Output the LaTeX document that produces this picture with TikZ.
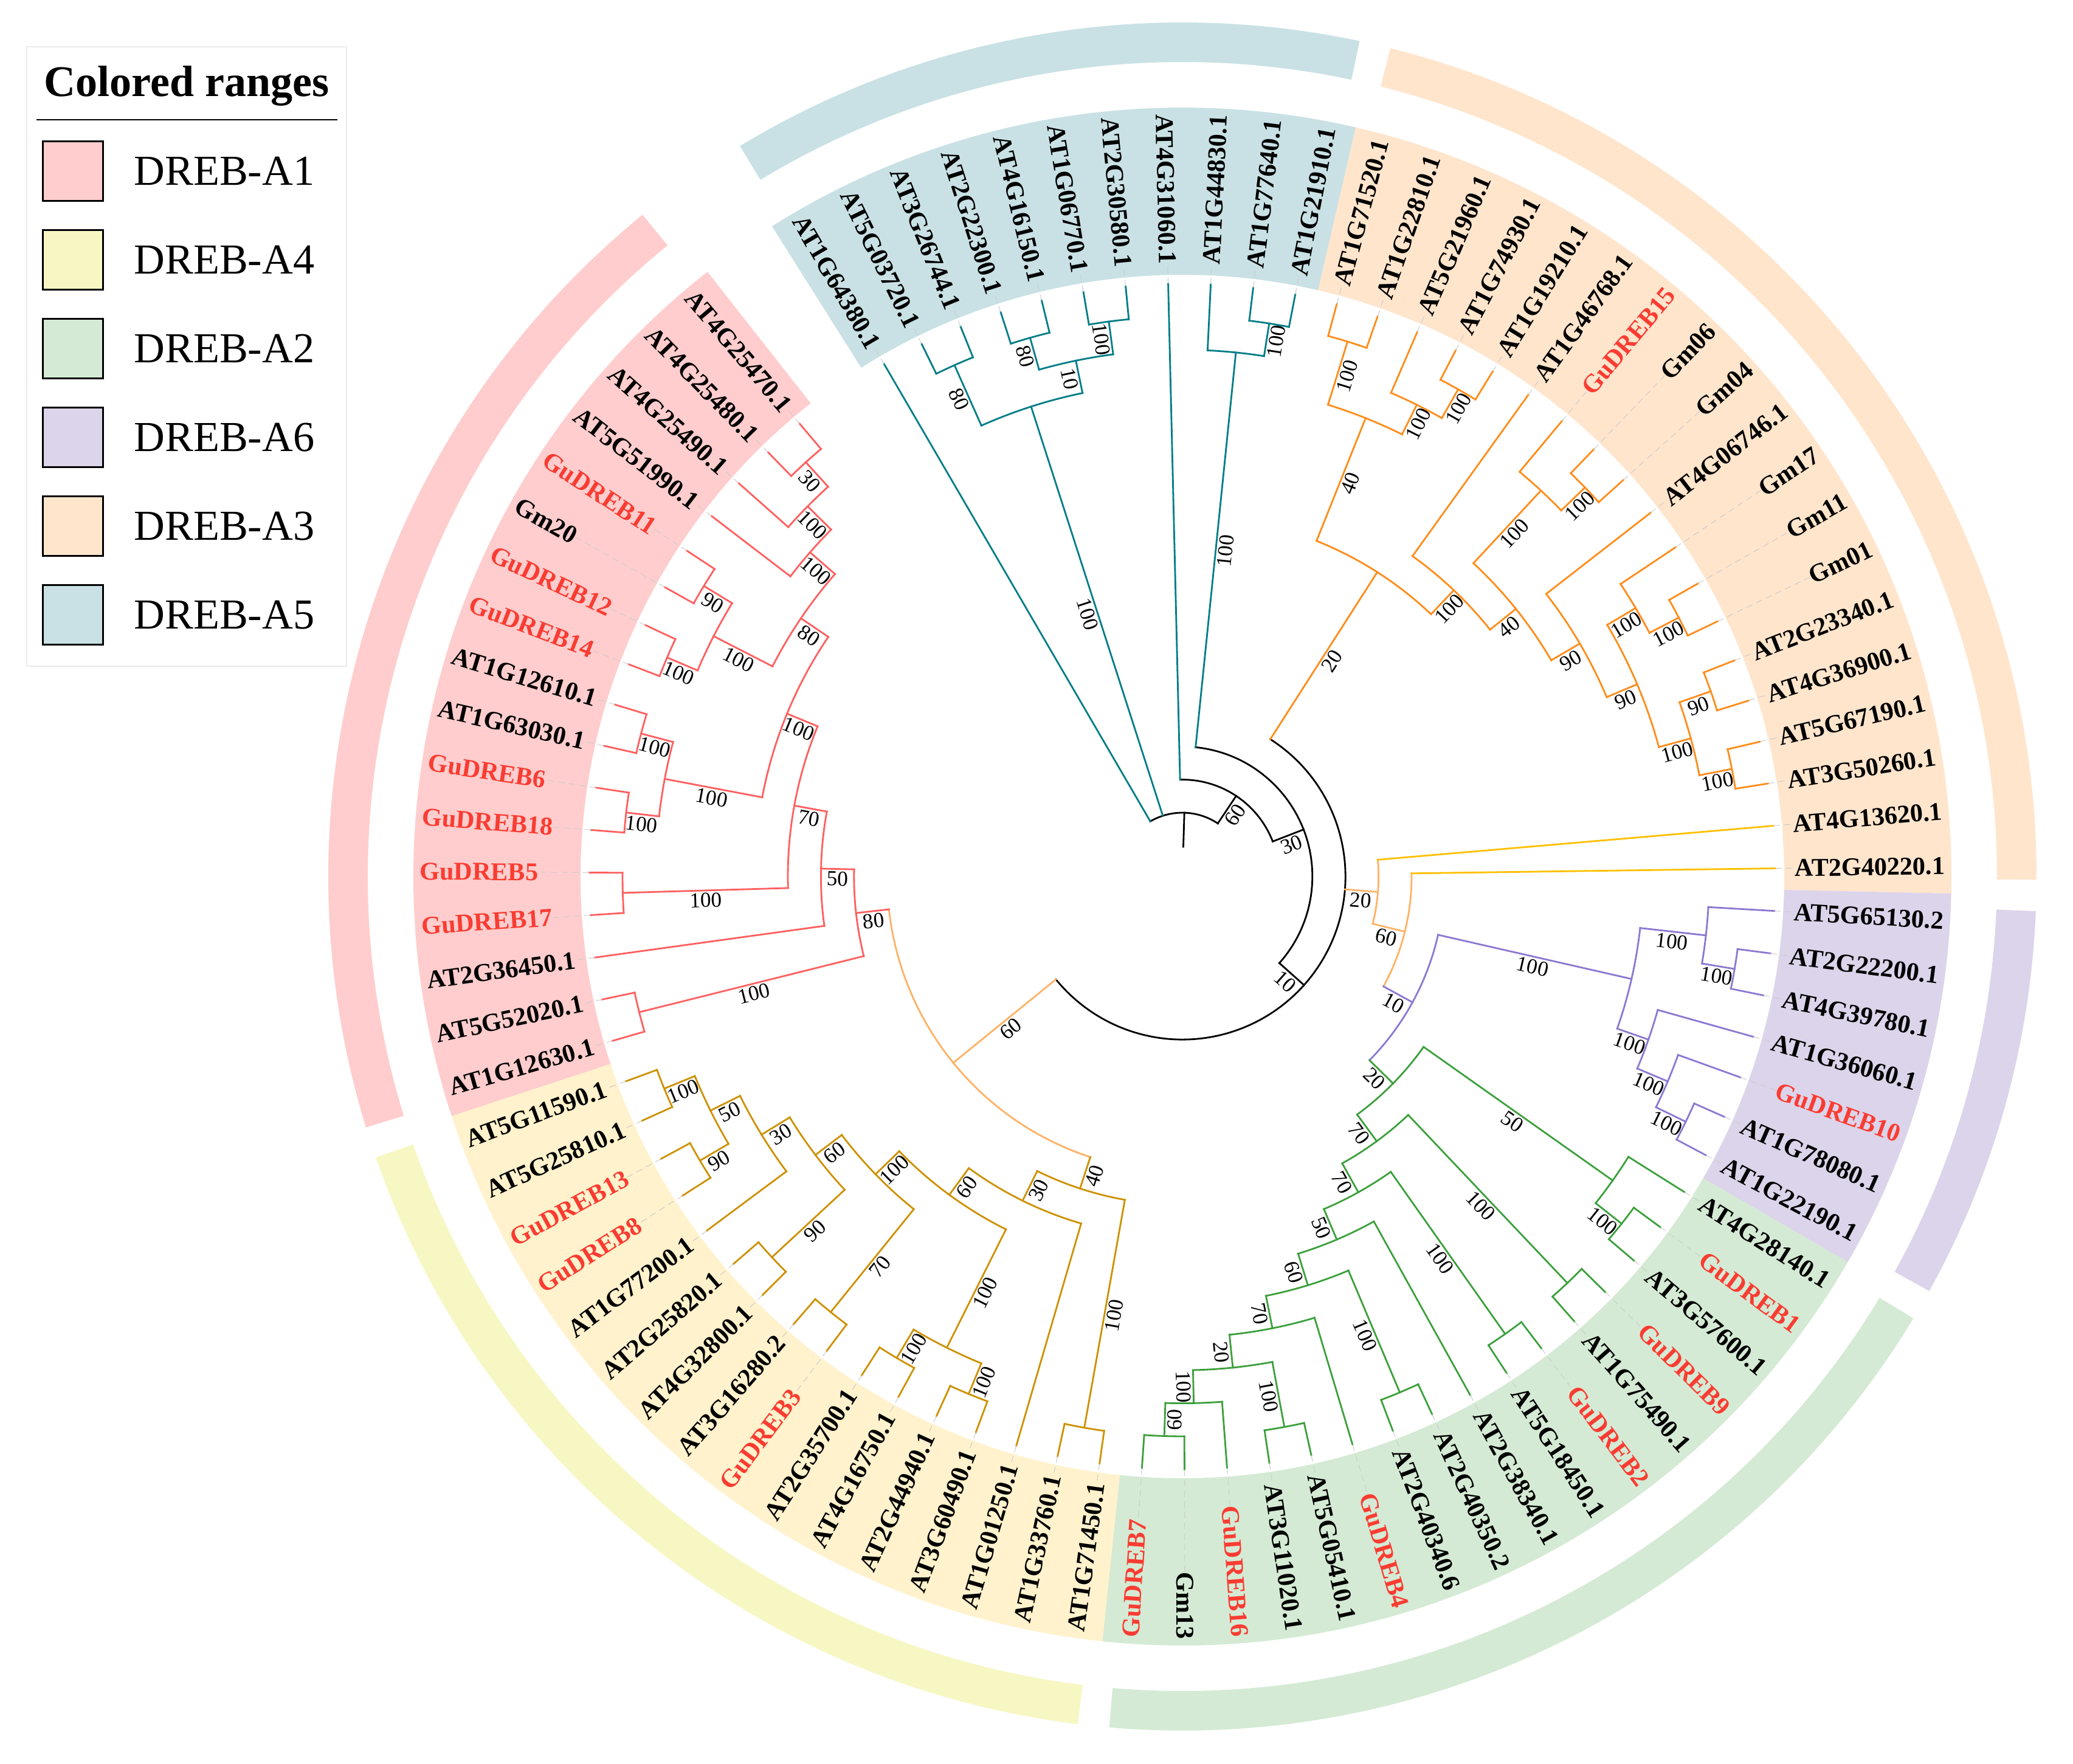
\documentclass[tikz,border=0pt]{standalone}
\usepackage{fontspec}
\setmainfont{Liberation Serif}
\usetikzlibrary{positioning}

\definecolor{a1br}{RGB}{255,95,95}
\definecolor{a2br}{RGB}{60,160,60}
\definecolor{a3br}{RGB}{255,140,26}
\definecolor{a4br}{RGB}{205,145,0}
\definecolor{a5br}{RGB}{0,125,135}
\definecolor{a6br}{RGB}{140,120,210}
\definecolor{joinbr}{RGB}{255,178,102}
\definecolor{yelbr}{RGB}{255,192,0}
\definecolor{gured}{RGB}{250,60,50}
\definecolor{a1bg}{RGB}{255,205,205}
\definecolor{a2bg}{RGB}{212,234,212}
\definecolor{a3bg}{RGB}{255,229,204}
\definecolor{a4bg}{RGB}{255,242,204}
\definecolor{a4ring}{RGB}{247,247,196}
\definecolor{a5bg}{RGB}{201,225,228}
\definecolor{a6bg}{RGB}{220,212,234}

\tikzset{
    branch/.style={line width=0.8pt, line cap=rect},
    leaflab/.style={font=\fontsize{12}{14}\selectfont\bfseries, inner sep=0pt},
    boot/.style={font=\fontsize{10}{12}\selectfont, inner sep=1pt, anchor=north},
    leader/.style={gray!40, densely dashed, line width=0.3pt},
    swatch/.style={draw=black, line width=0.8pt, inner sep=0pt, minimum width=0.99cm, minimum height=0.98cm},
    legtext/.style={font=\fontsize{20}{24}\selectfont, anchor=west, inner sep=0pt}
}

% leaf slot -> angle, node height -> radius
\newcommand{\phiof}[1]{(120.2-4.1176*(#1))}
\newcommand{\radof}[1]{(9.754-0.544*(#1))}

% name, slot, height, parent height, first child, last child, colour, support
\newcommand{\clade}[8]{%
    \coordinate (#1) at ({\phiof{#2}}:{\radof{#3}});
    \coordinate (#1-b) at ({\phiof{#2}}:{\radof{#4}});
    \draw[branch,#7] (#1-b) -- (#1);
    \draw[branch,#7] ({\phiof{#5}}:{\radof{#3}}) arc[start angle={\phiof{#5}}, end angle={\phiof{#6}}, radius={\radof{#3}}];
    \pgfmathsetmacro{\rot}{ifthenelse(cos(\phiof{#2})<0,\phiof{#2}+180,\phiof{#2})}
    \node[boot,rotate=\rot] (s-#1) at ({\phiof{#2}}:{(\radof{#3}+\radof{#4})/2}) {#8};
}

% first leaf, last leaf, colour, inner r, outer r, pad
\newcommand{\band}[6]{%
    \fill[#3] ({\phiof{#1}+#6}:#4) arc[start angle={\phiof{#1}+#6}, end angle={\phiof{#2}-#6}, radius=#4]
        -- ({\phiof{#2}-#6}:#5) arc[start angle={\phiof{#2}-#6}, end angle={\phiof{#1}+#6}, radius=#5] -- cycle;
}

\begin{document}
\begin{tikzpicture}
    \useasboundingbox (-19.45,-14.60) rectangle (14.65,14.42);
    \fill[white] (-19.45,-14.60) rectangle (14.65,14.42);

    % label backgrounds and outer ring
    \band{0}{10}{a5bg}{9.9}{12.65}{2.0588}
    \band{11}{29}{a3bg}{9.9}{12.65}{2.0588}
    \band{30}{36}{a6bg}{9.9}{12.65}{2.0588}
    \band{37}{52}{a2bg}{9.9}{12.65}{2.0588}
    \band{53}{68}{a4bg}{9.9}{12.65}{2.0588}
    \band{69}{85}{a1bg}{9.9}{12.65}{2.0588}
    \band{0}{10}{a5bg}{13.4}{14.05}{1}
    \band{11}{29}{a3bg}{13.4}{14.05}{1}
    \band{30}{36}{a6bg}{13.4}{14.05}{1}
    \band{37}{52}{a2bg}{13.4}{14.05}{1}
    \band{53}{68}{a4ring}{13.4}{14.05}{1}
    \band{69}{85}{a1bg}{13.4}{14.05}{1}

    % root
    \coordinate (root) at ({\phiof{7.7604}}:{\radof{16}});
    \coordinate (root-b) at ({\phiof{7.7604}}:0.49);
    \draw[branch] (root-b) -- (root);
    \draw[branch] ({\phiof{0}}:{\radof{16}}) arc[start angle={\phiof{0}}, end angle={\phiof{15.5208}}, radius={\radof{16}}];
    \clade{X}{15.5208}{15}{16}{7}{24.0415}{black}{60}
    \clade{Y}{24.0415}{14}{15}{8.75}{39.333}{black}{30}
    \clade{Z}{39.333}{13}{14}{15.2578}{63.4082}{black}{10}

    % DREB-A5
    \clade{A5a}{3}{3}{16}{1.5}{4.5}{a5br}{100}
    \clade{B1}{1.5}{1}{3}{1}{2}{a5br}{80}
    \clade{B2}{4.5}{2}{3}{3.5}{5.5}{a5br}{10}
    \clade{C1}{3.5}{1}{2}{3}{4}{a5br}{80}
    \clade{C2}{5.5}{1}{2}{5}{6}{a5br}{100}
    \clade{D}{8.75}{2}{14}{8}{9.5}{a5br}{100}
    \clade{E}{9.5}{1}{2}{9}{10}{a5br}{100}

    % DREB-A3
    \clade{A3m}{15.2578}{7}{13}{12.625}{17.8906}{a3br}{20}
    \clade{F1}{12.625}{3}{7}{11.5}{13.75}{a3br}{40}
    \clade{G1}{11.5}{1}{3}{11}{12}{a3br}{100}
    \clade{G2}{13.75}{2}{3}{13}{14.5}{a3br}{100}
    \clade{G3}{14.5}{1}{2}{14}{15}{a3br}{100}
    \clade{F2}{17.8906}{6}{7}{16}{19.7813}{a3br}{100}
    \clade{F3}{19.7813}{5}{6}{17.75}{21.8125}{a3br}{40}
    \clade{H1}{17.75}{2}{5}{17}{18.5}{a3br}{100}
    \clade{H2}{18.5}{1}{2}{18}{19}{a3br}{100}
    \clade{F4}{21.8125}{4}{5}{20}{23.625}{a3br}{90}
    \clade{F5}{23.625}{3}{4}{21.75}{25.5}{a3br}{90}
    \clade{F6}{21.75}{2}{3}{21}{22.5}{a3br}{100}
    \clade{F8}{22.5}{1}{2}{22}{23}{a3br}{100}
    \clade{F7}{25.5}{2}{3}{24.5}{26.5}{a3br}{100}
    \clade{F9}{24.5}{1}{2}{24}{25}{a3br}{90}
    \clade{F10}{26.5}{1}{2}{26}{27}{a3br}{100}

    % joining branches
    \clade{W}{30.2885}{12}{13}{28}{32.577}{joinbr}{20}
    \clade{U}{32.577}{11}{12}{29}{36.153}{joinbr}{60}
    \clade{V}{63.4082}{9}{13}{55.4609}{71.3555}{joinbr}{60}

    % DREB-A6
    \clade{T}{36.153}{10}{11}{32.3125}{39.994}{a6br}{10}
    \clade{NA6}{32.3125}{4}{10}{30.75}{33.875}{a6br}{100}
    \clade{K1}{30.75}{2}{4}{30}{31.5}{a6br}{100}
    \clade{K5}{31.5}{1}{2}{31}{32}{a6br}{100}
    \clade{K2}{33.875}{3}{4}{33}{34.75}{a6br}{100}
    \clade{K3}{34.75}{2}{3}{34}{35.5}{a6br}{100}
    \clade{K4}{35.5}{1}{2}{35}{36}{a6br}{100}

    % DREB-A2
    \clade{S}{39.994}{9}{10}{37.75}{42.238}{a2br}{20}
    \clade{R1}{37.75}{2}{9}{37}{38.5}{a2br}{50}
    \clade{R3}{38.5}{1}{2}{38}{39}{a2br}{100}
    \clade{R2}{42.238}{8}{9}{40.5}{43.977}{a2br}{70}
    \clade{R4}{40.5}{1}{8}{40}{41}{a2br}{100}
    \clade{R5}{43.977}{7}{8}{42.5}{45.453}{a2br}{70}
    \clade{R6}{42.5}{1}{7}{42}{43}{a2br}{100}
    \clade{R7}{45.453}{6}{7}{44}{46.906}{a2br}{50}
    \clade{R8}{46.906}{5}{6}{45.5}{48.3125}{a2br}{60}
    \clade{R9}{45.5}{1}{5}{45}{46}{a2br}{100}
    \clade{R10}{48.3125}{4}{5}{47}{49.625}{a2br}{70}
    \clade{R11}{49.625}{3}{4}{48.5}{50.75}{a2br}{20}
    \clade{R12}{48.5}{1}{3}{48}{49}{a2br}{100}
    \clade{R13}{50.75}{2}{3}{50}{51.5}{a2br}{100}
    \clade{R14}{51.5}{1}{2}{51}{52}{a2br}{60}

    % DREB-A4
    \clade{A4m}{55.4609}{8}{9}{53.5}{57.4219}{a4br}{40}
    \clade{P1}{53.5}{1}{8}{53}{54}{a4br}{100}
    \clade{P2}{57.4219}{7}{8}{55}{59.8438}{a4br}{30}
    \clade{Q11}{59.8438}{6}{7}{57.5}{62.1875}{a4br}{60}
    \clade{Q12}{57.5}{2}{6}{56.5}{58.5}{a4br}{100}
    \clade{Q14}{56.5}{1}{2}{56}{57}{a4br}{100}
    \clade{Q13}{58.5}{1}{2}{58}{59}{a4br}{100}
    \clade{Q8}{62.1875}{5}{6}{60.5}{63.875}{a4br}{100}
    \clade{Q10}{60.5}{1}{5}{60}{61}{a4br}{70}
    \clade{Q5}{63.875}{4}{5}{62.5}{65.25}{a4br}{60}
    \clade{Q7}{62.5}{1}{4}{62}{63}{a4br}{90}
    \clade{Q4}{65.25}{3}{4}{64}{66.5}{a4br}{30}
    \clade{Q3}{66.5}{2}{3}{65.5}{67.5}{a4br}{50}
    \clade{Q2}{65.5}{1}{2}{65}{66}{a4br}{90}
    \clade{Q1}{67.5}{1}{2}{67}{68}{a4br}{100}

    % DREB-A1
    \clade{A1m}{71.3555}{8}{9}{69.5}{73.2109}{a1br}{80}
    \clade{M1}{69.5}{1}{8}{69}{70}{a1br}{100}
    \clade{M2}{73.2109}{7}{8}{71}{75.4219}{a1br}{50}
    \clade{M3}{75.4219}{6}{7}{72.5}{78.3438}{a1br}{70}
    \clade{M5}{72.5}{1}{6}{72}{73}{a1br}{100}
    \clade{M4}{78.3438}{5}{6}{75.5}{81.1875}{a1br}{100}
    \clade{M7}{75.5}{2}{5}{74.5}{76.5}{a1br}{100}
    \clade{M9}{74.5}{1}{2}{74}{75}{a1br}{100}
    \clade{M8}{76.5}{1}{2}{76}{77}{a1br}{100}
    \clade{M6}{81.1875}{4}{5}{79.5}{82.875}{a1br}{80}
    \clade{M11}{79.5}{2}{4}{78.5}{80.5}{a1br}{100}
    \clade{M13}{78.5}{1}{2}{78}{79}{a1br}{100}
    \clade{M12}{80.5}{1}{2}{80}{81}{a1br}{90}
    \clade{M10}{82.875}{3}{4}{82}{83.75}{a1br}{100}
    \clade{M14}{83.75}{2}{3}{83}{84.5}{a1br}{100}
    \clade{M15}{84.5}{1}{2}{84}{85}{a1br}{30}

    % leaves: slot / label / parent height / branch colour / text colour
    \foreach \i/\lab/\hp/\bc/\tc in {
        0/AT1G64380.1/16/a5br/black, 1/AT5G03720.1/1/a5br/black, 2/AT3G26744.1/1/a5br/black,
        3/AT2G22300.1/1/a5br/black, 4/AT4G16150.1/1/a5br/black, 5/AT1G06770.1/1/a5br/black,
        6/AT2G30580.1/1/a5br/black, 7/AT4G31060.1/15/a5br/black, 8/AT1G44830.1/2/a5br/black,
        9/AT1G77640.1/1/a5br/black, 10/AT1G21910.1/1/a5br/black,
        11/AT1G71520.1/1/a3br/black, 12/AT1G22810.1/1/a3br/black, 13/AT5G21960.1/2/a3br/black,
        14/AT1G74930.1/1/a3br/black, 15/AT1G19210.1/1/a3br/black, 16/AT1G46768.1/6/a3br/black,
        17/GuDREB15/2/a3br/gured, 18/Gm06/1/a3br/black, 19/Gm04/1/a3br/black,
        20/AT4G06746.1/4/a3br/black, 21/Gm17/2/a3br/black, 22/Gm11/1/a3br/black,
        23/Gm01/1/a3br/black, 24/AT2G23340.1/1/a3br/black, 25/AT4G36900.1/1/a3br/black,
        26/AT5G67190.1/1/a3br/black, 27/AT3G50260.1/1/a3br/black,
        28/AT4G13620.1/12/yelbr/black, 29/AT2G40220.1/11/yelbr/black,
        30/AT5G65130.2/2/a6br/black, 31/AT2G22200.1/1/a6br/black, 32/AT4G39780.1/1/a6br/black,
        33/AT1G36060.1/3/a6br/black, 34/GuDREB10/2/a6br/gured, 35/AT1G78080.1/1/a6br/black,
        36/AT1G22190.1/1/a6br/black,
        37/AT4G28140.1/2/a2br/black, 38/GuDREB1/1/a2br/gured, 39/AT3G57600.1/1/a2br/black,
        40/GuDREB9/1/a2br/gured, 41/AT1G75490.1/1/a2br/black, 42/GuDREB2/1/a2br/gured,
        43/AT5G18450.1/1/a2br/black, 44/AT2G38340.1/6/a2br/black, 45/AT2G40350.2/1/a2br/black,
        46/AT2G40340.6/1/a2br/black, 47/GuDREB4/4/a2br/gured, 48/AT5G05410.1/1/a2br/black,
        49/AT3G11020.1/1/a2br/black, 50/GuDREB16/2/a2br/gured, 51/Gm13/1/a2br/black,
        52/GuDREB7/1/a2br/gured,
        53/AT1G71450.1/1/a4br/black, 54/AT1G33760.1/1/a4br/black, 55/AT1G01250.1/7/a4br/black,
        56/AT3G60490.1/1/a4br/black, 57/AT2G44940.1/1/a4br/black, 58/AT4G16750.1/1/a4br/black,
        59/AT2G35700.1/1/a4br/black, 60/GuDREB3/1/a4br/gured, 61/AT3G16280.2/1/a4br/black,
        62/AT4G32800.1/1/a4br/black, 63/AT2G25820.1/1/a4br/black, 64/AT1G77200.1/3/a4br/black,
        65/GuDREB8/1/a4br/gured, 66/GuDREB13/1/a4br/gured, 67/AT5G25810.1/1/a4br/black,
        68/AT5G11590.1/1/a4br/black,
        69/AT1G12630.1/1/a1br/black, 70/AT5G52020.1/1/a1br/black, 71/AT2G36450.1/7/a1br/black,
        72/GuDREB17/1/a1br/gured, 73/GuDREB5/1/a1br/gured, 74/GuDREB18/1/a1br/gured,
        75/GuDREB6/1/a1br/gured, 76/AT1G63030.1/1/a1br/black, 77/AT1G12610.1/1/a1br/black,
        78/GuDREB14/1/a1br/gured, 79/GuDREB12/1/a1br/gured, 80/Gm20/1/a1br/black,
        81/GuDREB11/1/a1br/gured, 82/AT5G51990.1/3/a1br/black, 83/AT4G25490.1/2/a1br/black,
        84/AT4G25480.1/1/a1br/black, 85/AT4G25470.1/1/a1br/black}{
        \pgfmathsetmacro{\tha}{120.2-4.1176*\i}
        \pgfmathtruncatemacro{\fl}{cos(\tha)<0}
        \pgfmathsetmacro{\rot}{\tha+180*\fl}
        \coordinate (b\i) at (\tha:{\radof{\hp}});
        \coordinate (t\i) at (\tha:9.754);
        \draw[branch,\bc] (b\i) -- (t\i);
        \ifnum\fl=1
            \node[leaflab,text=\tc,rotate=\rot,anchor=west] (l\i) at (\tha:12.55) {\lab};
            \draw[leader] (t\i) -- (l\i.east);
        \else
            \node[leaflab,text=\tc,rotate=\rot,anchor=east] (l\i) at (\tha:12.55) {\lab};
            \draw[leader] (t\i) -- (l\i.west);
        \fi
    }

    % legend
    \draw[gray!15, line width=0.6pt] (-19.01,13.65) rectangle (-13.75,3.46);
    \node[font=\fontsize{20.5}{24}\selectfont\bfseries, anchor=base] (legtitle) at (-16.38,12.83) {Colored ranges};
    \draw[line width=0.5pt] (-18.85,12.45) -- (-13.90,12.45);
    \foreach \k/\c/\t in {0/a1bg/DREB-A1, 1/a4ring/DREB-A4, 2/a2bg/DREB-A2,
                          3/a6bg/DREB-A6, 4/a3bg/DREB-A3, 5/a5bg/DREB-A5}{
        \node[swatch, fill=\c, anchor=north west] (sw\k) at (-18.76,{12.11-1.46*\k}) {};
        \node[legtext, right=0.49cm of sw\k] (lt\k) {\t};
    }
\end{tikzpicture}
\end{document}
